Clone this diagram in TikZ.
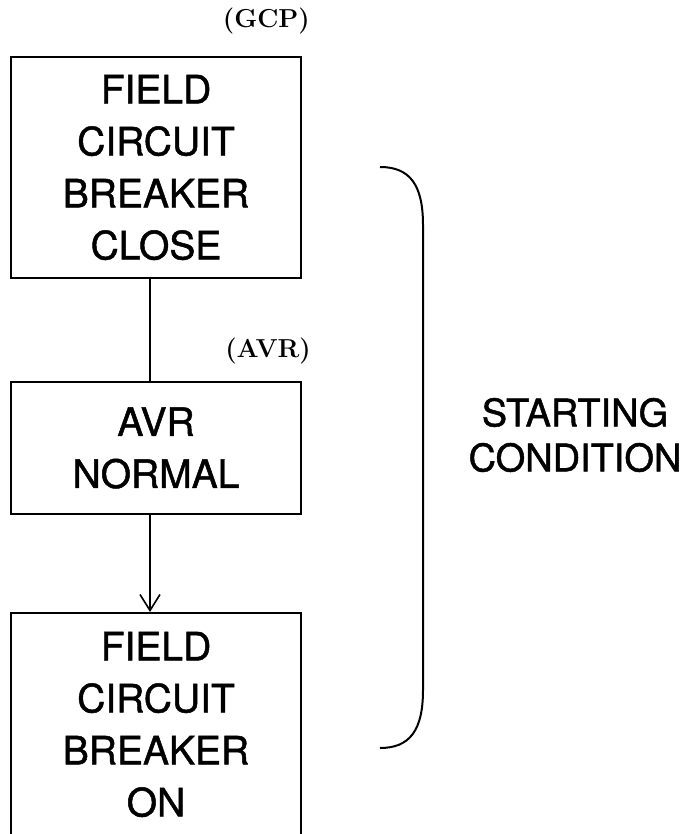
\documentclass[tikz,border=0pt]{standalone}
\usepackage{fontspec}
\newfontfamily\heros[FakeBold=1.2]{TeX Gyre Heros}
\usetikzlibrary{positioning,arrows.meta,calc}

\begin{document}
\begin{tikzpicture}[
  x=1pt, y=1pt,
  node distance=100pt,
  box/.style={draw, line width=2pt, align=center, minimum width=290pt, inner sep=0pt, font=\heros\fontsize{39}{52}\selectfont},
  tag/.style={anchor=south east, inner sep=0pt, font=\fontsize{26}{26}\selectfont\bfseries},
  conn/.style={line width=1.6pt},
  arr/.style={-{Straight Barb[length=16pt, width=20pt, line width=1.6pt]}, line width=1.6pt}
]
  \useasboundingbox (0,0) rectangle (688,-834);
  \node[box, minimum height=221pt] (fcb) at (156,-167.5) {FIELD\\CIRCUIT\\BREAKER\\CLOSE};
  \node[box, minimum height=132pt, below=102pt of fcb] (avr) {AVR\\NORMAL};
  \node[box, minimum height=223pt, below=97pt of avr] (fcbon) {FIELD\\CIRCUIT\\BREAKER\\ON};
  \node[tag] (gcp) at ([shift={(8pt,22pt)}]fcb.north east) {(GCP)};
  \node[tag] (avrtag) at ([shift={(9pt,17pt)}]avr.north east) {(AVR)};
  \draw[conn] ([xshift=-6pt]fcb.south) -- ([xshift=-6pt]avr.north);
  \draw[arr] ([xshift=-6pt]avr.south) -- ([xshift=-6pt]fcbon.north);
  % bracket
  \draw[line width=2pt] (380,-167) .. controls (410,-167) and (423,-185) .. (423,-225) -- (423,-690) .. controls (423,-730) and (410,-748) .. (380,-748);
  \node[font=\heros\fontsize{38}{45}\selectfont, align=center] (start) at (575,-435) {STARTING\\CONDITION};
\end{tikzpicture}
\end{document}
